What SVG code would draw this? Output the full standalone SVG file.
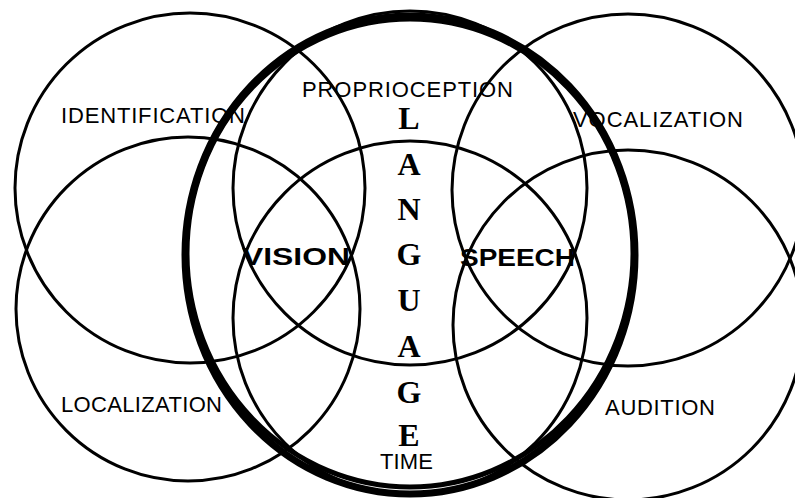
<svg xmlns="http://www.w3.org/2000/svg" width="795" height="498" viewBox="0 0 795 498">
<style>
.c{fill:none;stroke:#000;stroke-width:3}
.t{fill:none;stroke:#000}
.lab{font-family:"Liberation Sans",Arial,sans-serif;font-size:22px;fill:#000}
.bold{font-family:"Liberation Sans",Arial,sans-serif;font-size:24px;font-weight:bold;fill:#000}
.lang{font-family:"Liberation Serif","Times New Roman",serif;font-size:32px;font-weight:bold;fill:#000;text-anchor:middle}
</style>
<rect width="795" height="498" fill="#fff"/>
<g id="identification">
<circle class="c" cx="190" cy="188" r="175"/>
<text class="lab" x="61" y="123" textLength="184" lengthAdjust="spacing">IDENTIFICATION</text>
</g>
<g id="localization">
<circle class="c" cx="188" cy="309" r="172"/>
<text class="lab" x="61" y="412" textLength="161" lengthAdjust="spacing">LOCALIZATION</text>
</g>
<g id="vocalization">
<circle class="c" cx="628" cy="190" r="176"/>
<text class="lab" x="573" y="127" textLength="170" lengthAdjust="spacing">VOCALIZATION</text>
</g>
<g id="audition">
<circle class="c" cx="628" cy="325" r="175"/>
<text class="lab" x="605" y="415" textLength="110" lengthAdjust="spacing">AUDITION</text>
</g>
<g id="proprioception">
<circle class="c" cx="410" cy="188" r="177"/>
<text class="lab" x="302" y="97" textLength="211" lengthAdjust="spacing">PROPRIOCEPTION</text>
</g>
<g id="time">
<circle class="c" cx="410" cy="318" r="177"/>
<text class="lab" x="380" y="469" textLength="53" lengthAdjust="spacing">TIME</text>
</g>
<g id="vision">
<text class="bold" x="242" y="265" textLength="108" lengthAdjust="spacingAndGlyphs">VISION</text>
</g>
<g id="speech">
<text class="bold" x="460" y="266" textLength="115" lengthAdjust="spacingAndGlyphs">SPEECH</text>
</g>
<g id="language">
<ellipse class="t" cx="410" cy="255" rx="225" ry="239" stroke-width="7"/>
<ellipse class="t" cx="410" cy="253" rx="223" ry="234" stroke-width="5"/>
<text class="lang" x="409" y="129">L</text>
<text class="lang" x="409" y="175">A</text>
<text class="lang" x="409" y="220">N</text>
<text class="lang" x="409" y="265">G</text>
<text class="lang" x="409" y="311">U</text>
<text class="lang" x="409" y="357">A</text>
<text class="lang" x="409" y="403">G</text>
<text class="lang" x="409" y="446">E</text>
</g>
</svg>
